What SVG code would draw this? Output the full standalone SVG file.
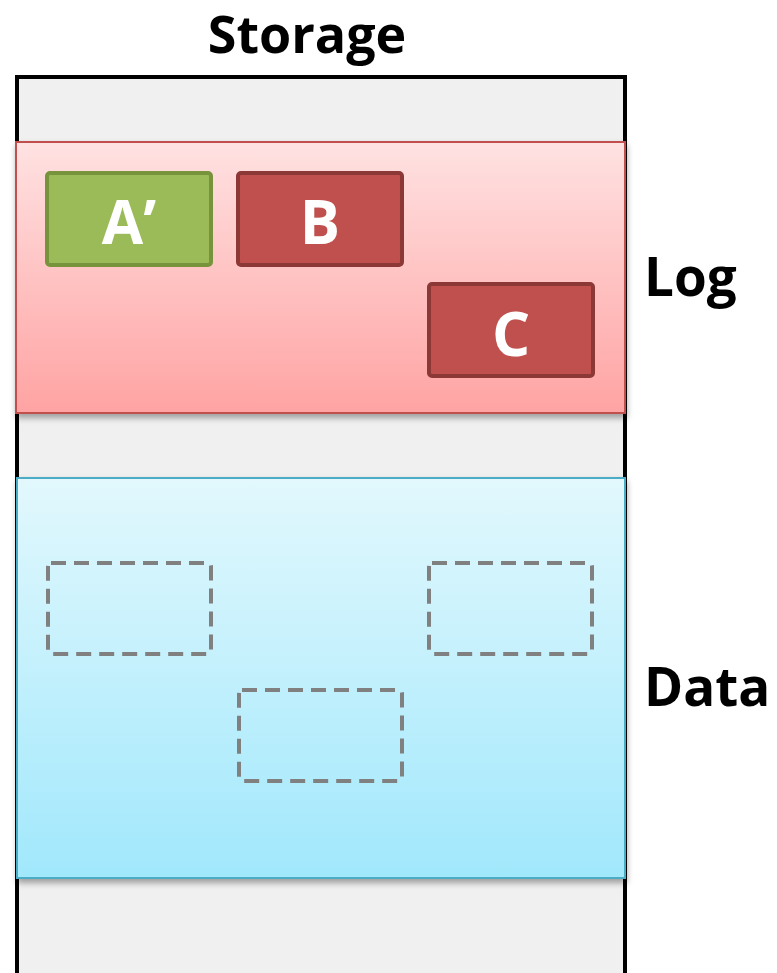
<svg xmlns="http://www.w3.org/2000/svg" width="777" height="973" viewBox="0 0 777 973">
  <defs>
    <linearGradient id="logGrad" x1="0" y1="0" x2="0" y2="1">
      <stop offset="0" stop-color="#ffe2e2"/>
      <stop offset="1" stop-color="#ffa3a3"/>
    </linearGradient>
    <linearGradient id="dataGrad" x1="0" y1="0" x2="0" y2="1">
      <stop offset="0" stop-color="#e2f8fd"/>
      <stop offset="1" stop-color="#a1e8fc"/>
    </linearGradient>
    <filter id="shadow" x="-5%" y="-5%" width="110%" height="115%">
      <feGaussianBlur in="SourceAlpha" stdDeviation="3"/>
      <feOffset dx="1" dy="4"/>
      <feComponentTransfer><feFuncA type="linear" slope="0.35"/></feComponentTransfer>
      <feMerge><feMergeNode/><feMergeNode in="SourceGraphic"/></feMerge>
    </filter>
  </defs>
  <style>
    .title { font-family: "Open Sans", "Liberation Sans", sans-serif; font-weight: bold; fill: #000; }
    .blockText { font-family: "Open Sans", "Liberation Sans", sans-serif; font-weight: bold; fill: #fff; font-size: 60px; text-anchor: middle; }
    .red { fill: #c0504d; stroke: #8c3836; stroke-width: 4; }
    .green { fill: #9bbb59; stroke: #77933c; stroke-width: 4; }
    .slot { fill: none; stroke: #808080; stroke-width: 4; stroke-dasharray: 15 8; }
  </style>

  <!-- storage container -->
  <g id="storage">
    <rect x="17" y="77" width="608" height="910" fill="#f0f0f0" stroke="#000" stroke-width="4"/>
    <text class="title" x="307" y="53" font-size="52" text-anchor="middle">Storage</text>
  </g>

  <!-- log region -->
  <g id="log">
    <rect x="16" y="142" width="609" height="271" fill="url(#logGrad)" stroke="#c0504d" stroke-width="2" filter="url(#shadow)"/>
    <text class="title" x="644" y="296" font-size="53">Log</text>
  </g>

  <!-- data region -->
  <g id="data">
    <rect x="17" y="478" width="608" height="400" fill="url(#dataGrad)" stroke="#4bacc6" stroke-width="2" filter="url(#shadow)"/>
    <text class="title" x="644" y="706" font-size="53">Data</text>
  </g>

  <!-- log entries -->
  <g id="entryA">
    <rect class="green" x="47" y="173" width="164" height="92" rx="3"/>
    <text class="blockText" x="129" y="244">A’</text>
  </g>
  <g id="entryB">
    <rect class="red" x="238" y="173" width="164" height="92" rx="3"/>
    <text class="blockText" x="320" y="244">B</text>
  </g>
  <g id="entryC">
    <rect class="red" x="429" y="284" width="164" height="92" rx="3"/>
    <text class="blockText" x="511" y="356">C</text>
  </g>

  <!-- empty data slots -->
  <g id="slot1"><rect class="slot" x="48" y="563" width="163" height="91" rx="3"/></g>
  <g id="slot2"><rect class="slot" x="429" y="563" width="163" height="91" rx="3"/></g>
  <g id="slot3"><rect class="slot" x="239" y="690" width="163" height="91" rx="3"/></g>

  <g id="connectors"/>
</svg>
